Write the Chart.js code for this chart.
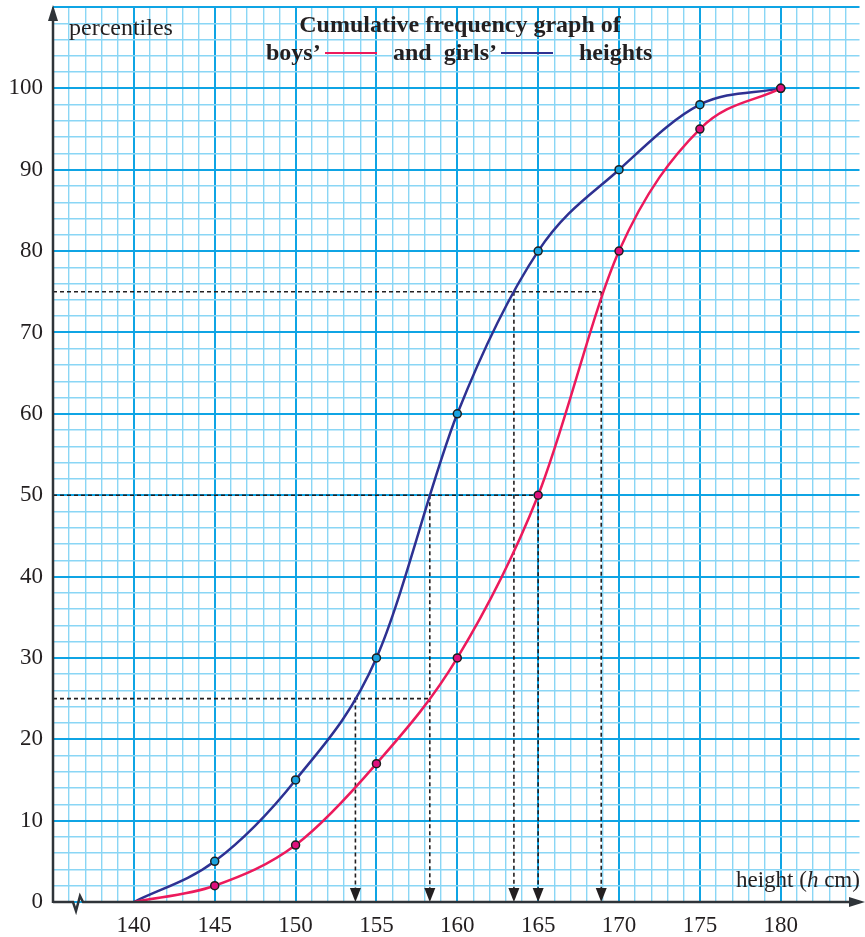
<!DOCTYPE html>
<html>
<head>
<meta charset="utf-8">
<script src="https://cdn.jsdelivr.net/npm/chart.js@4.4.1/dist/chart.umd.min.js"></script>
<style>
  html, body { margin: 0; padding: 0; background: #fff; }
  #wrap { position: relative; width: 865px; height: 937px; }
</style>
</head>
<body>
<div id="wrap"><canvas id="cfChart" width="865" height="937"></canvas></div>
<script>
// data
const heights = [140, 145, 150, 155, 160, 165, 170, 175, 180];
const boysPct = [0, 2, 7, 17, 30, 50, 80, 95, 100];
const girlsPct = [0, 5, 15, 30, 60, 80, 90, 98, 100];

// quartile read-offs (dashed guides)
const percentileLevels = [25, 50, 75];
const boysQuartiles = [158.3, 165, 168.9];
const girlsQuartiles = [153.7, 158.3, 163.5];

// axis labels
const xTickLabels = [140, 145, 150, 155, 160, 165, 170, 175, 180];
const yTickLabels = [0, 10, 20, 30, 40, 50, 60, 70, 80, 90, 100];

const INK = '#231f20';
const MAJOR = '#0fa4e4';
const MINOR = '#8ad6f5';
const BOYS = '#ec1a5c';
const GIRLS = '#2e3192';
const SERIF = '"Liberation Serif", "DejaVu Serif", serif';

function toPoints(xs, ys) {
    return xs.map((x, i) => ({ x: x, y: ys[i] }));
}

// 1. Axes, arrows, guides and headings
const decorPlugin = {
    id: 'decor',
    beforeDatasetsDraw(chart) {
        const ctx = chart.ctx;
        const xs = chart.scales.x, ys = chart.scales.y;
        const base = ys.getPixelForValue(0);
        // one vertical per read-off height, from its highest level
        const drops = new Map();
        ctx.save();
        ctx.strokeStyle = INK;
        ctx.lineWidth = 1.6;
        ctx.setLineDash([4, 3]);
        percentileLevels.forEach((lvl, i) => {
            const py = ys.getPixelForValue(lvl);
            const far = Math.max(boysQuartiles[i], girlsQuartiles[i]);
            ctx.beginPath();
            ctx.moveTo(chart.chartArea.left, py);
            ctx.lineTo(xs.getPixelForValue(far), py);
            ctx.stroke();
            [boysQuartiles[i], girlsQuartiles[i]].forEach(q => {
                drops.set(q, Math.max(drops.get(q) || 0, lvl));
            });
        });
        drops.forEach((lvl, q) => {
            const px = xs.getPixelForValue(q);
            ctx.beginPath();
            ctx.moveTo(px, ys.getPixelForValue(lvl));
            ctx.lineTo(px, base - 12);
            ctx.stroke();
        });
        ctx.setLineDash([]);
        // arrow heads on the x axis
        ctx.fillStyle = INK;
        drops.forEach((lvl, q) => {
            const px = xs.getPixelForValue(q);
            ctx.beginPath();
            ctx.moveTo(px - 5.5, base - 14);
            ctx.lineTo(px + 5.5, base - 14);
            ctx.lineTo(px, base);
            ctx.closePath();
            ctx.fill();
        });
        ctx.restore();
    },
    afterDraw(chart) {
        const ctx = chart.ctx;
        const area = chart.chartArea;
        const ys = chart.scales.y;
        const y0 = ys.getPixelForValue(0);
        ctx.save();
        ctx.strokeStyle = '#2f3439';
        ctx.fillStyle = '#2f3439';
        ctx.lineWidth = 2.5;
        // y axis
        ctx.beginPath();
        ctx.moveTo(area.left, y0 + 1);
        ctx.lineTo(area.left, 18);
        ctx.stroke();
        ctx.beginPath();
        ctx.moveTo(area.left - 5, 21);
        ctx.lineTo(area.left + 5, 21);
        ctx.lineTo(area.left, 5);
        ctx.closePath();
        ctx.fill();
        // x axis with break
        ctx.beginPath();
        ctx.moveTo(area.left, y0);
        ctx.lineTo(73, y0);
        ctx.lineTo(76, y0 + 9);
        ctx.lineTo(80, y0 - 6);
        ctx.lineTo(83, y0);
        ctx.lineTo(852, y0);
        ctx.stroke();
        ctx.beginPath();
        ctx.moveTo(849, y0 - 5);
        ctx.lineTo(849, y0 + 5);
        ctx.lineTo(865, y0);
        ctx.closePath();
        ctx.fill();

        // text
        ctx.fillStyle = INK;
        ctx.textBaseline = 'alphabetic';
        ctx.font = '24px ' + SERIF;
        ctx.textAlign = 'left';
        ctx.fillText('percentiles', 69, 35);

        // height (h cm)
        ctx.font = '23px ' + SERIF;
        let hx = 736;
        ctx.fillText('height (', hx, 887);
        hx += ctx.measureText('height (').width;
        ctx.font = 'italic 23px ' + SERIF;
        ctx.fillText('h', hx, 887);
        hx += ctx.measureText('h').width;
        ctx.font = '23px ' + SERIF;
        ctx.fillText(' cm)', hx, 887);

        // title
        ctx.font = 'bold 24px ' + SERIF;
        ctx.textAlign = 'center';
        ctx.fillText('Cumulative frequency graph of', 460, 32);
        ctx.textAlign = 'left';
        ctx.fillText('boys\u2019', 266, 60);
        ctx.fillText('and  girls\u2019', 393, 60);
        ctx.fillText('heights', 579, 60);
        ctx.lineWidth = 2;
        ctx.strokeStyle = BOYS;
        ctx.beginPath();
        ctx.moveTo(325, 53);
        ctx.lineTo(377, 53);
        ctx.stroke();
        ctx.strokeStyle = GIRLS;
        ctx.beginPath();
        ctx.moveTo(501, 53);
        ctx.lineTo(553, 53);
        ctx.stroke();
        ctx.restore();
    }
};

// 2. Chart
const ctxCf = document.getElementById('cfChart').getContext('2d');
const markerRadius = heights.map(h => (h === 140 ? 0 : 4));

const cfChart = new Chart(ctxCf, {
    type: 'line',
    data: {
        datasets: [{
            label: 'boys',
            data: toPoints(heights, boysPct),
            borderColor: BOYS,
            borderWidth: 2.5,
            cubicInterpolationMode: 'monotone',
            pointRadius: markerRadius,
            pointBackgroundColor: '#e0107c',
            pointBorderColor: '#1e1e1e',
            pointBorderWidth: 1.5,
            fill: false
        }, {
            label: 'girls',
            data: toPoints(heights, girlsPct),
            borderColor: GIRLS,
            borderWidth: 2.5,
            cubicInterpolationMode: 'monotone',
            pointRadius: markerRadius,
            pointBackgroundColor: '#1aa3e0',
            pointBorderColor: '#1e1e1e',
            pointBorderWidth: 1.5,
            fill: false
        }]
    },
    options: {
        responsive: false,
        animation: false,
        layout: { padding: { top: 7, right: 0, left: 0, bottom: 0 } },
        plugins: {
            legend: { display: false },
            tooltip: { enabled: false }
        },
        scales: {
            x: {
                type: 'linear',
                min: 135,
                max: 184.87,
                border: { display: false },
                grid: {
                    drawTicks: false,
                    color: c => (c.tick && c.tick.value % 5 === 0 ? MAJOR : MINOR),
                    lineWidth: c => (c.tick && c.tick.value % 5 === 0 ? 2 : 1.4)
                },
                ticks: {
                    stepSize: 1,
                    includeBounds: false,
                    autoSkip: false,
                    maxRotation: 0,
                    minRotation: 0,
                    padding: 10,
                    color: INK,
                    font: { family: SERIF, size: 23 },
                    callback: v => (xTickLabels.includes(v) ? String(v) : '')
                },
                afterFit: s => {
                    s.height = 35;
                    s.paddingLeft = 0;
                    s.paddingRight = 0;
                }
            },
            y: {
                min: 0,
                max: 110,
                border: { display: false },
                grid: {
                    drawTicks: false,
                    color: c => (c.tick && c.tick.value % 10 === 0 ? MAJOR : MINOR),
                    lineWidth: c => (c.tick && c.tick.value % 10 === 0 ? 2 : 1.4)
                },
                ticks: {
                    stepSize: 2,
                    autoSkip: false,
                    padding: 10,
                    color: INK,
                    font: { family: SERIF, size: 23 },
                    callback: v => (yTickLabels.includes(v) ? String(v) : '')
                },
                afterFit: s => {
                    s.width = 53;
                    s.paddingTop = 0;
                    s.paddingBottom = 0;
                }
            }
        }
    },
    plugins: [decorPlugin]
});
</script>
</body>
</html>
